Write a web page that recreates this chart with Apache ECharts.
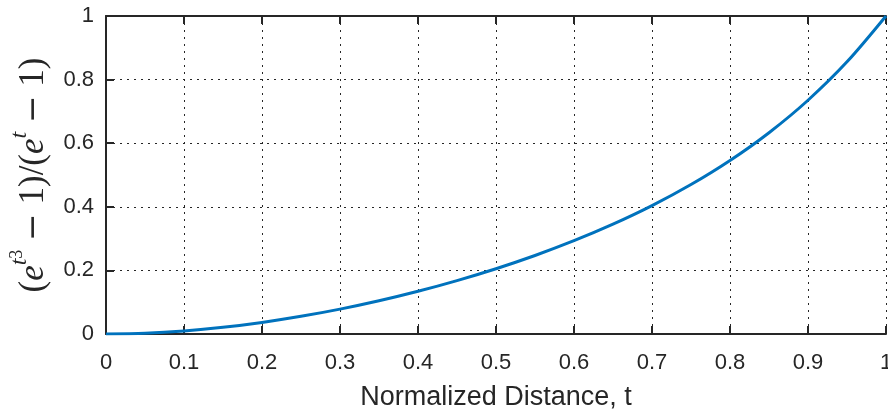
<!DOCTYPE html>
<html>
<head>
<meta charset="utf-8">
<script src="https://cdn.jsdelivr.net/npm/echarts@6/dist/echarts.min.js"></script>
<style>
html, body { margin: 0; padding: 0; background: #fff; }
#chart { width: 888px; height: 412px; }
</style>
</head>
<body>
<div id="chart"></div>
<script>
// values
var tValues = [0, 0.05, 0.1, 0.15, 0.2, 0.25, 0.3, 0.35, 0.4, 0.45, 0.5,
    0.55, 0.6, 0.65, 0.7, 0.75, 0.8, 0.85, 0.9, 0.95, 1];
var ratioValues = [0, 0.0024, 0.0095, 0.0209, 0.0363, 0.0555, 0.0782, 0.1045, 0.1344, 0.1679, 0.2053,
    0.2469, 0.2933, 0.3452, 0.4036, 0.4699, 0.5456, 0.6330, 0.7351, 0.8558, 1];
var xTickStep = 0.1;
var yTickStep = 0.2;
var xTitle = 'Normalized Distance, t';

var axisColor = '#262626';
var myChart = echarts.init(document.getElementById('chart'));

var points = tValues.map(function (t, i) { return [t, ratioValues[i]]; });

var option = {
    animation: false,
    backgroundColor: '#fff',
    grid: { left: 106, right: 2, top: 16, bottom: 78, containLabel: false, outerBoundsMode: 'none' },
    xAxis: [{
        type: 'value',
        min: 0, max: 1, interval: xTickStep,
        name: xTitle,
        nameLocation: 'middle',
        nameGap: 50,
        nameTextStyle: { fontFamily: 'Liberation Sans', fontSize: 27, color: axisColor },
        axisLine: { lineStyle: { color: axisColor, width: 2 } },
        axisTick: { inside: true, length: 8, lineStyle: { color: axisColor, width: 2 } },
        axisLabel: { margin: 18, fontFamily: 'Liberation Sans', fontSize: 22, color: axisColor },
        splitLine: { show: true, lineStyle: { color: axisColor, width: 1, type: [2, 5] } }
    }, {
        type: 'value',
        position: 'top',
        min: 0, max: 1, interval: xTickStep,
        axisLine: { lineStyle: { color: axisColor, width: 2 } },
        axisTick: { inside: true, length: 8, lineStyle: { color: axisColor, width: 2 } },
        axisLabel: { show: false },
        splitLine: { show: false }
    }],
    yAxis: [{
        type: 'value',
        min: 0, max: 1, interval: yTickStep,
        axisLine: { show: true, lineStyle: { color: axisColor, width: 2 } },
        axisTick: { show: true, inside: true, length: 8, lineStyle: { color: axisColor, width: 2 } },
        axisLabel: { margin: 12, fontFamily: 'Liberation Sans', fontSize: 22, color: axisColor },
        splitLine: { show: true, lineStyle: { color: axisColor, width: 1, type: [2, 5] } }
    }],
    graphic: [{
        type: 'text',
        x: 34,
        y: 175,
        rotation: Math.PI / 2,
        style: {
            text: '{p|(}{i|e}{s|t}{ss|3}{p| }{m|−}{p| 1)/(}{i|e}{s|t}{p| }{m|−}{p| 1)}',
            align: 'center',
            verticalAlign: 'middle',
            fill: axisColor,
            rich: {
                p: { fontFamily: 'Liberation Serif', fontSize: 35, lineHeight: 52, verticalAlign: 'middle', fill: axisColor },
                m: { fontFamily: 'DejaVu Serif', fontSize: 33, lineHeight: 52, verticalAlign: 'middle', fill: axisColor },
                i: { fontFamily: 'Liberation Serif', fontStyle: 'italic', fontSize: 35, lineHeight: 52, verticalAlign: 'middle', fill: axisColor },
                s: { fontFamily: 'Liberation Serif', fontStyle: 'italic', fontSize: 24, lineHeight: 32, verticalAlign: 'top', fill: axisColor },
                ss: { fontFamily: 'Liberation Serif', fontSize: 18, lineHeight: 16, verticalAlign: 'top', fill: axisColor }
            }
        }
    }],
    series: [{
        type: 'line',
        data: points,
        smooth: 0.3,
        showSymbol: false,
        lineStyle: { color: '#0072BD', width: 3 },
        itemStyle: { color: '#0072BD' }
    }]
};

myChart.setOption(option);
</script>
</body>
</html>
